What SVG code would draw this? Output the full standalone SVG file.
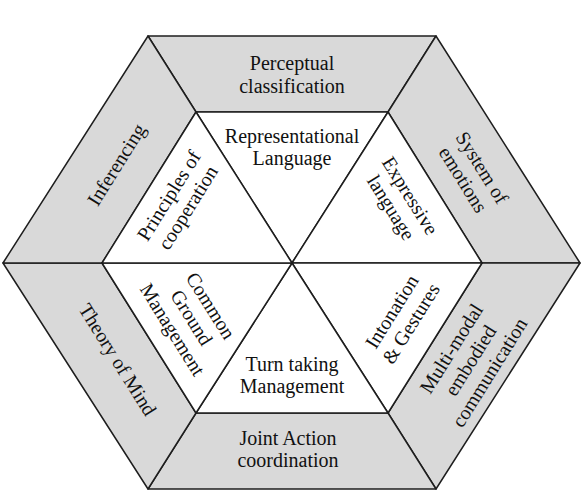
<svg xmlns="http://www.w3.org/2000/svg" width="582" height="492" viewBox="0 0 582 492">
<style>
.outer{fill:#d9d9d9;stroke:#1e1e1e;stroke-width:1.5;stroke-linejoin:round}
.inner{fill:#ffffff;stroke:#1e1e1e;stroke-width:1.5;stroke-linejoin:round}
text{font-family:"Liberation Serif","Times New Roman",serif;font-size:20px;fill:#111;text-anchor:middle}
</style>
<rect width="582" height="492" fill="#ffffff"/>
<g id="perceptual">
<polygon class="outer" points="148,36 436,36 388,112 196,112"/>
<text x="292" y="70">Perceptual</text>
<text x="292" y="93">classification</text>
</g>
<g id="emotions">
<polygon class="outer" points="436,36 580,263 482,263 388,112"/>
<g transform="translate(472,174) rotate(58)"><text y="-5.25">System of</text><text y="17.25">emotions</text></g>
</g>
<g id="multimodal">
<polygon class="outer" points="580,263 436,489 388,413 482,263"/>
<g transform="translate(471,361) rotate(-58)"><text y="-16.5">Multi-modal</text><text y="6">embodied</text><text y="28.5">communication</text></g>
</g>
<g id="joint-action">
<polygon class="outer" points="436,489 148,489 196,413 388,413"/>
<text x="288" y="445">Joint Action</text>
<text x="288" y="467">coordination</text>
</g>
<g id="theory-of-mind">
<polygon class="outer" points="148,489 3,263 102,263 196,413"/>
<g transform="translate(117,360) rotate(58)"><text y="6">Theory of Mind</text></g>
</g>
<g id="inferencing">
<polygon class="outer" points="3,263 148,36 196,112 102,263"/>
<g transform="translate(117,165) rotate(-58)"><text y="6">Inferencing</text></g>
</g>
<g id="representational">
<polygon class="inner" points="292,263 196,112 388,112"/>
<text x="292" y="143">Representational</text>
<text x="292" y="165">Language</text>
</g>
<g id="expressive">
<polygon class="inner" points="292,263 388,112 482,263"/>
<g transform="translate(400,202) rotate(58)"><text y="-5.25">Expressive</text><text y="17.25">language</text></g>
</g>
<g id="intonation">
<polygon class="inner" points="292,263 482,263 388,413"/>
<g transform="translate(402,318) rotate(-58)"><text y="-5.25">Intonation</text><text y="17.25">&amp; Gestures</text></g>
</g>
<g id="turn-taking">
<polygon class="inner" points="292,263 388,413 196,413"/>
<text x="292" y="371">Turn taking</text>
<text x="292" y="393">Management</text>
</g>
<g id="common-ground">
<polygon class="inner" points="292,263 196,413 102,263"/>
<g transform="translate(191,318) rotate(58)"><text y="-16.5">Common</text><text y="6">Ground</text><text y="28.5">Management</text></g>
</g>
<g id="principles">
<polygon class="inner" points="292,263 102,263 196,112"/>
<g transform="translate(179,202) rotate(-58)"><text y="-5.25">Principles of</text><text y="17.25">cooperation</text></g>
</g>
<g id="connectors"></g>
</svg>
